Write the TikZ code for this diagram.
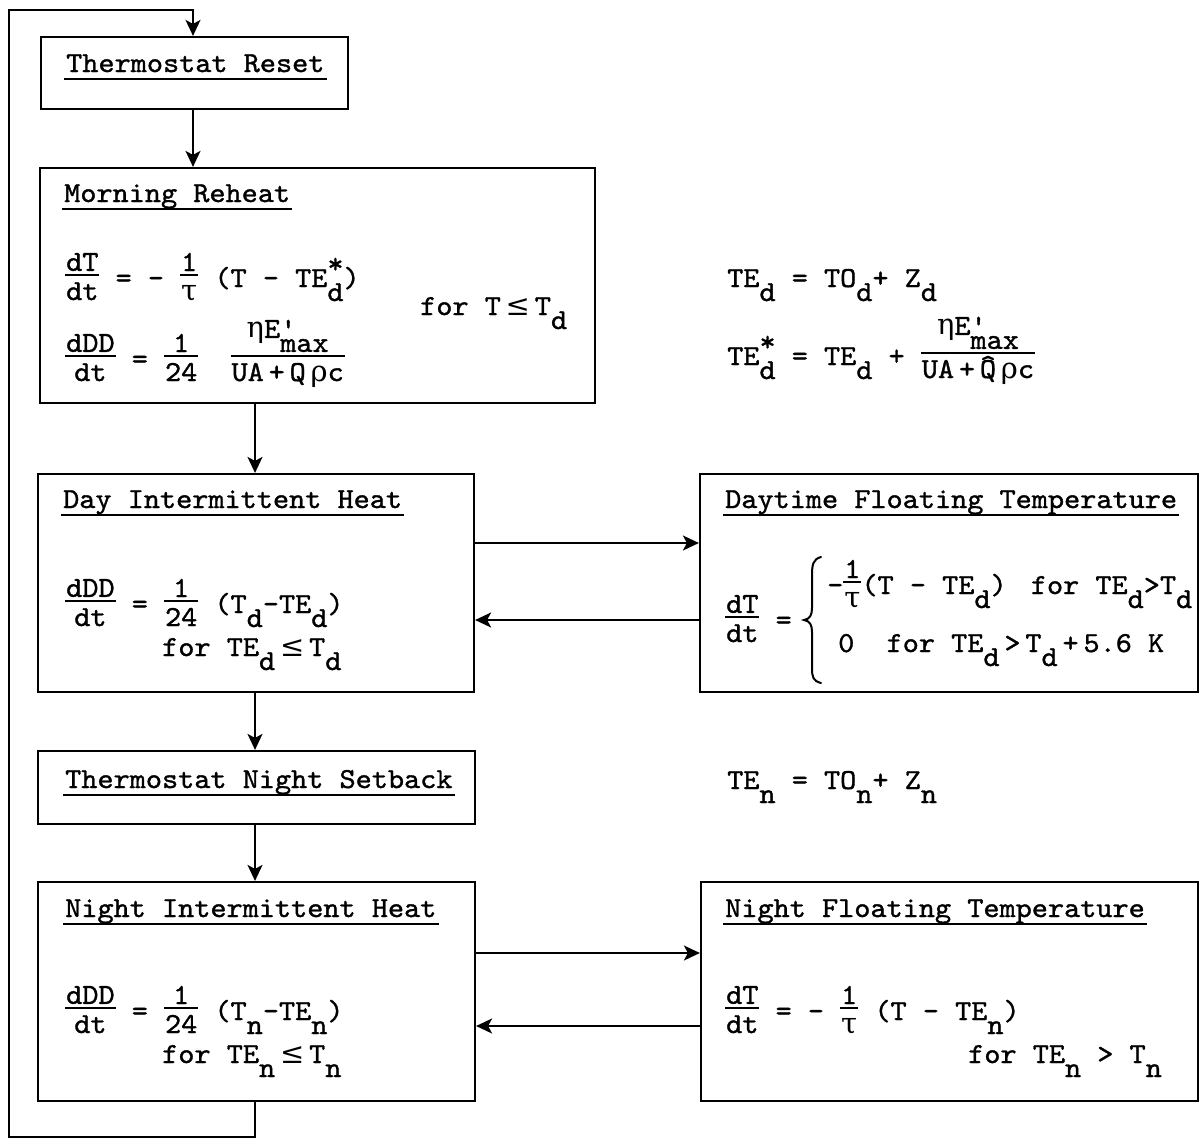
\documentclass[tikz,border=0pt]{standalone}
\usepackage{fontspec}
\usetikzlibrary{arrows.meta}
\newfontfamily\twf{lmmono10-regular.otf}[FakeBold=1.2, FakeStretch=1.06]
\newfontfamily\grkf{DejaVu Serif}[Scale=1.0]
\newcommand\g[1]{{\grkf #1}}
\newcommand\tw{\twf\fontsize{29}{34}\selectfont}
\newcommand\sbx[1]{\raisebox{-14pt}{#1}}
\newcommand\supsb[2]{\rlap{\raisebox{14pt}{#1}}\raisebox{-14pt}{#2}}
\newdimen\frw \newdimen\frn
\newcommand\fr[2]{\setbox0=\hbox{#1}\setbox2=\hbox{#2}%
  \frw=\wd0 \ifdim\wd2>\frw \frw=\wd2 \fi \advance\frw by 2pt
  \frn=16pt \advance\frn by \dp0
  \hbox{\rlap{\raisebox{\frn}{\hbox to\frw{\hss\box0\hss}}}%
   \rlap{\raisebox{11pt}{\rule{\frw}{1.8pt}}}%
   \raisebox{-13pt}{\hbox to\frw{\hss\box2\hss}}}}
\tikzset{
  box/.style={draw, line width=2.2pt, inner sep=0pt},
  txt/.style={anchor=base west, inner sep=0pt, font=\tw},
  ttl/.style={anchor=base west, inner sep=0pt, font=\tw},
  uline/.style={line width=1.6pt},
  brc/.style={line width=2pt, line cap=round},
  arr/.style={line width=1.9pt, -{Stealth[length=16pt,width=15pt,inset=4pt]}},
}
\begin{document}
\begin{tikzpicture}[x=1pt,y=-1pt]
\fill[white] (0,0) rectangle (1200,1138);
\useasboundingbox (0,0) rectangle (1200,1138);

% boxes
\node[box, minimum width=307pt, minimum height=72pt] (reset) at (194.5,73) {};
\node[box, minimum width=555pt, minimum height=235pt] (morning) at (317.5,285.5) {};
\node[box, minimum width=436pt, minimum height=218pt] (day) at (256,583) {};
\node[box, minimum width=498pt, minimum height=218pt] (dayf) at (949,583) {};
\node[box, minimum width=437pt, minimum height=73pt] (setback) at (256.5,787.5) {};
\node[box, minimum width=437pt, minimum height=219pt] (night) at (256.5,991.5) {};
\node[box, minimum width=497pt, minimum height=219pt] (nightf) at (949.5,991.5) {};

% titles
\node[ttl] (t1) at (66,72) {Thermostat Reset};
\node[ttl] (t2) at (64,202) {Morning Reheat};
\node[ttl] (t3) at (63,508) {Day Intermittent Heat};
\node[ttl] (t4) at (725,508) {Daytime Floating Temperature};
\node[ttl] (t5) at (65,788) {Thermostat Night Setback};
\node[ttl] (t6) at (65,917) {Night Intermittent Heat};
\node[ttl] (t7) at (725,917) {Night Floating Temperature};
\foreach \t in {t1,t2,t3,t4,t5,t6,t7}
  \draw[uline] ([shift={(-2pt,-7pt)}]\t.base west) -- ([shift={(2pt,-7pt)}]\t.base east);

% Morning reheat
\node[txt] (m1) at (65,287) {\fr{dT}{dt} = - \fr{1}{\g{τ}} (T - TE\supsb{*}{d})};
\node[txt] (m2) at (65,368) {\fr{dDD}{dt} = \fr{1}{24}~~\fr{\g{η}E\rlap{'}\sbx{max}}{UA\,+\,Q\,\g{ρ}c}};
\node[txt] (m3) at (420,315) {for T\,\g{≤}\,T\sbx{d}};

% right-hand definitions
\node[txt] (r1) at (727,287) {TE\sbx{d} = TO\sbx{d}+ Z\sbx{d}};
\node[txt] (r2) at (727,365) {TE\supsb{*}{d} = TE\sbx{d} + \fr{\g{η}E\rlap{'}\sbx{max}}{UA\,+\,\rlap{\raisebox{4pt}{\^{}}}Q\,\g{ρ}c}};
\node[txt] (r3) at (727,789) {TE\sbx{n} = TO\sbx{n}+ Z\sbx{n}};

% Day intermittent heat
\node[txt] (d1) at (65,613) {\fr{dDD}{dt} = \fr{1}{24} (T\sbx{d}-TE\sbx{d})};
\node[txt] (d2) at (162,656) {for TE\sbx{d}\,\g{≤}\,T\sbx{d}};

% Daytime floating
\node[txt] (f0) at (725,629) {\fr{dT}{dt} =};
\draw[brc] (821,557) .. controls (813,559) and (812,565) .. (812,575) -- (812,608)
  .. controls (812,615) and (810,619) .. (804,620)
  .. controls (810,621) and (812,625) .. (812,632) -- (812,668)
  .. controls (812,677) and (813,681) .. (821,683);
\node[txt] (f1) at (827,594) {-\fr{1}{\g{τ}}(T - TE\sbx{d})~\kern8pt for TE\sbx{d}>T\sbx{d}};
\node[txt] (f2) at (838,652) {0~~for TE\sbx{d}\,>\,T\sbx{d}\,+\,5.6 K};

% Night intermittent heat
\node[txt] (n1) at (65,1020) {\fr{dDD}{dt} = \fr{1}{24} (T\sbx{n}-TE\sbx{n})};
\node[txt] (n2) at (162,1063) {for TE\sbx{n}\,\g{≤}\,T\sbx{n}};

% Night floating
\node[txt] (n3) at (725,1020) {\fr{dT}{dt} = - \fr{1}{\g{τ}} (T - TE\sbx{n})};
\node[txt] (n4) at (968,1063) {for TE\sbx{n} > T\sbx{n}};

% connectors
\coordinate (xa) at (193,0);
\coordinate (xb) at (255,0);
\coordinate (ya) at (0,543);
\coordinate (yb) at (0,620);
\coordinate (yc) at (0,953);
\coordinate (yd) at (0,1026);
\coordinate (lb) at (9,1137);
\coordinate (lt) at (9,10);
\draw[arr] (reset.south -| xa) -- (morning.north -| xa);
\draw[arr] (morning.south -| xb) -- (day.north -| xb);
\draw[arr] (day.south -| xb) -- (setback.north -| xb);
\draw[arr] (setback.south -| xb) -- (night.north -| xb);
\draw[arr] (day.east |- ya) -- (dayf.west |- ya);
\draw[arr] (dayf.west |- yb) -- (day.east |- yb);
\draw[arr] (night.east |- yc) -- (nightf.west |- yc);
\draw[arr] (nightf.west |- yd) -- (night.east |- yd);
\draw[arr] (night.south -| xb) -- (xb |- lb) -- (lb) -- (lt) -- (lt -| xa) -- (reset.north -| xa);
\end{tikzpicture}
\end{document}
